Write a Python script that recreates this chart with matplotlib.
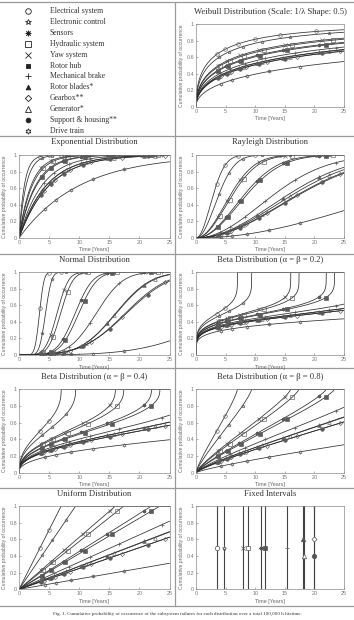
import math
import numpy as np
import matplotlib
matplotlib.use("Agg")
import matplotlib.pyplot as plt
from matplotlib.lines import Line2D

# ---------------- data ----------------
subsystems = ["Electrical system", "Electronic control", "Sensors", "Hydraulic system",
              "Yaw system", "Rotor hub", "Mechanical brake", "Rotor blades*",
              "Gearbox**", "Generator*", "Support & housing**", "Drive train"]
# characteristic time per subsystem [years] (Fixed Intervals panel / Weibull scale)
scale_years = [3.5, 4.7, 11.0, 8.7, 8.0, 11.7, 15.3, 18.05, 20.0, 18.2, 20.0, 40.0]
# exponential mean [years]
exp_mean_years = [0.88, 1.18, 2.75, 2.2, 2.0, 2.9, 3.8, 4.5, 5.0, 4.55, 5.0, 10.0]
# rayleigh scale [years]
rayleigh_scale_years = [3.4, 4.5, 9.5, 7.2, 6.8, 10.0, 15.3, 18.1, 20.0, 19.0, 20.3, 39.5]
# normal distribution parameters [years]
normal_mean_years = [3.4, 4.4, 9.3, 6.9, 6.3, 9.9, 12.8, 16.0, 17.6, 16.1, 17.8, 35.0]
normal_sd_years = [0.6, 0.8, 2.3, 1.6, 1.5, 2.4, 3.5, 4.6, 5.6, 4.7, 5.8, 10.5]
# marker level in the Fixed Intervals panel
fixed_marker_level = [0.5, 0.5, 0.5, 0.5, 0.5, 0.5, 0.5, 0.6, 0.6, 0.4, 0.4, 0.5]
beta_shapes = [0.2, 0.4, 0.8]
x_ticks = [0, 5, 10, 15, 20, 25]
y_ticks = [0, 0.2, 0.4, 0.6, 0.8, 1]
y_ticklabels = ["0", "0.2", "0.4", "0.6", "0.8", "1"]

# ---------------- styles ----------------
marker_style = [("o", False), ("*", False), ((8, 2, 0), False), ("s", False),
                ("x", False), ("s", True), ("+", False), ("^", True),
                ("D", False), ("^", False), ("o", True), ((6, 1, 0), False)]

W, H = 354, 620
fig = plt.figure(figsize=(W / 100, H / 100), dpi=100)
fig.patch.set_facecolor("white")

def fx(px):
    return px / W

def fy(py):
    return 1 - py / H

SERIF = ["Liberation Serif", "DejaVu Serif"]
SANS = ["Liberation Sans", "DejaVu Sans"]

# table lines
lc = "#9a9a9a"
for yy in [2, 136, 254, 368, 488, 606]:
    fig.add_artist(Line2D([fx(0), fx(354)], [fy(yy), fy(yy)], transform=fig.transFigure,
                          color=lc, lw=0.9))
fig.add_artist(Line2D([fx(175), fx(175)], [fy(2), fy(606)], transform=fig.transFigure,
                      color=lc, lw=0.9))

# ---------------- legend cell ----------------
for i, name in enumerate(subsystems):
    yy = 11 + 10.9 * i
    m, filled = marker_style[i]
    ms = 3.2 if m == "D" else (3.4 if filled else 4.0)
    fig.add_artist(Line2D([fx(28)], [fy(yy)], transform=fig.transFigure, marker=m,
                          ms=ms, mec="#222222", mfc="#222222" if filled else "none",
                          mew=0.6, ls="none"))
    fig.text(fx(50), fy(yy), name, fontsize=5.6, family=SERIF, color="#333333",
             va="center", ha="left")

# ---------------- CDFs ----------------
t = np.linspace(0, 25, 2001)
erf_v = np.vectorize(math.erf)

def normal_cdf(x, mu, sd):
    return 0.5 * (1 + erf_v((x - mu) / (sd * math.sqrt(2))))

def beta_cdf_sym(u, a):
    u = np.clip(u, 0, 1)
    smax = 0.5 ** a
    s = np.linspace(0, smax, 20001)
    g = (1 - s ** (1 / a)) ** (a - 1)
    cum = np.concatenate([[0], np.cumsum((g[1:] + g[:-1]) / 2 * np.diff(s))])
    half = cum[-1]

    def lower(x):
        return np.interp(np.asarray(x) ** a, s, cum) / (2 * half)

    return np.where(u <= 0.5, lower(np.minimum(u, 0.5)), 1 - lower(np.minimum(1 - u, 0.5)))

def weibull(i, x):
    return 1 - np.exp(-np.sqrt(x / scale_years[i]))

def exponential(i, x):
    return 1 - np.exp(-x / exp_mean_years[i])

def rayleigh(i, x):
    return 1 - np.exp(-(x / rayleigh_scale_years[i]) ** 2)

def normal(i, x):
    return normal_cdf(x, normal_mean_years[i], normal_sd_years[i])

def beta_factory(a):
    def f(i, x):
        return beta_cdf_sym(np.asarray(x) / (2 * scale_years[i]), a)
    return f

def uniform(i, x):
    return np.clip(np.asarray(x) / (2 * scale_years[i]), 0, 1)

panels = [
    ("Weibull Distribution (Scale: 1/\u03bb Shape: 0.5)", weibull, 0, 1),
    ("Exponential Distribution", exponential, 1, 0),
    ("Rayleigh Distribution", rayleigh, 1, 1),
    ("Normal Distribution", normal, 2, 0),
    ("Beta Distribution (\u03b1 = \u03b2 = 0.2)", beta_factory(beta_shapes[0]), 2, 1),
    ("Beta Distribution (\u03b1 = \u03b2 = 0.4)", beta_factory(beta_shapes[1]), 3, 0),
    ("Beta Distribution (\u03b1 = \u03b2 = 0.8)", beta_factory(beta_shapes[2]), 3, 1),
    ("Uniform Distribution", uniform, 4, 0),
    ("Fixed Intervals", None, 4, 1),
]

col_x = [(19, 169.5), (196, 344)]
row_y = [(24, 106.7), (155, 238), (272.3, 355), (389.3, 472.7), (506, 589.3)]

marker_start = [3.5, 3.9, 3.6, 4.0, 3.7, 3.8, 4.1, 3.6, 4.2, 3.9, 3.7, 4.3]

def setup_axes(row, col, title):
    x0, x1 = col_x[col]
    y0, y1 = row_y[row]
    ax = fig.add_axes([fx(x0), fy(y1), fx(x1) - fx(x0), fy(y0) - fy(y1)])
    ax.set_xlim(0, 25)
    ax.set_ylim(0, 1)
    ax.set_xticks(x_ticks)
    ax.set_yticks(y_ticks)
    ax.set_yticklabels(y_ticklabels)
    ax.tick_params(direction="in", length=1.5, width=0.4, labelsize=3.9,
                   colors="#777777", pad=1.5)
    for sp in ax.spines.values():
        sp.set_color("#8a8a8a")
        sp.set_linewidth(0.5)
    for lab in ax.get_xticklabels() + ax.get_yticklabels():
        lab.set_family(SANS)
    xc = (x0 + x1) / 2
    fig.text(fx(xc), fy(y0 - 12.5), title, fontsize=6.2, family=SERIF,
             color="#333333", ha="center", va="center")
    fig.text(fx(xc), fy(y1 + 12), "Time [Years]", fontsize=3.9, family=SANS,
             color="#666666", ha="center", va="center")
    ylx = 5 if col == 0 else 182
    fig.text(fx(ylx), fy((y0 + y1) / 2), "Cumulative probability of occurrence",
             fontsize=3.6, family=SANS, color="#666666", rotation=90,
             ha="center", va="center")
    return ax

line_color = "#2e2e2e"
for title, func, row, col in panels:
    ax = setup_axes(row, col, title)
    if func is None:
        for i in range(len(subsystems)):
            if scale_years[i] > 25:
                continue
            ax.axvline(scale_years[i], color="#444444", lw=0.8, zorder=2)
        for i in range(len(subsystems)):
            if scale_years[i] > 25:
                continue
            m, filled = marker_style[i]
            ax.plot([scale_years[i]], [fixed_marker_level[i]], ls="none", marker=m,
                    ms=2.6 if m == "D" else 3.2, mec="#555555",
                    mfc="#555555" if filled else "white", mew=0.5, zorder=3)
        continue
    for i in range(len(subsystems)):
        y = func(i, t)
        ax.plot(t, y, color=line_color, lw=0.55, zorder=2, clip_on=True)
        tm = marker_start[i] * 1.42 ** np.arange(8)
        tm = tm[tm <= 24.6]
        ym = func(i, tm)
        keep = ym < 0.995 if ("Beta" in title or "Uniform" in title) else ym <= 1.0
        m, filled = marker_style[i]
        ax.plot(tm[keep], ym[keep], ls="none", marker=m, ms=2.1 if m == "D" else 2.6,
                mec="#5a5a5a", mfc="#5a5a5a" if filled else "none", mew=0.45, zorder=3)

fig.text(0.5, fy(614), "Fig. 1. Cumulative probability of occurrence of the subsystem failures "
         "for each distribution over a total 100,000 h lifetime.",
         fontsize=3.6, family=SERIF, color="#333333", ha="center", va="center")

fig.savefig("out.png", dpi=100, facecolor="white")
